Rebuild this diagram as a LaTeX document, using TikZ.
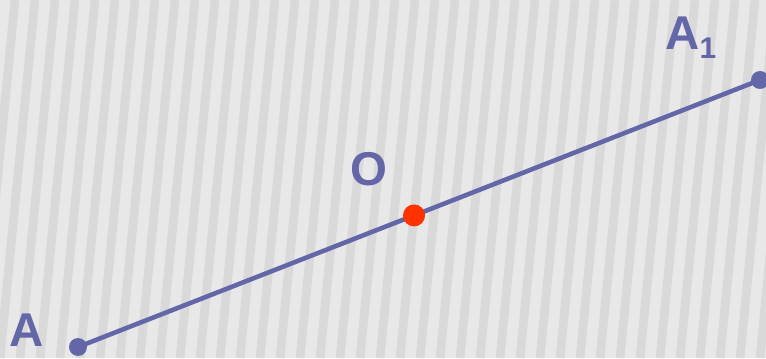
\documentclass[tikz,border=0pt]{standalone}
\usepackage{fontspec}
\setmainfont{Liberation Sans}
\usetikzlibrary{calc}
\definecolor{SegBlue}{HTML}{6367A8}
\definecolor{PtRed}{HTML}{FF3300}
\definecolor{PaperGray}{HTML}{E8E8E8}
\definecolor{StripeGray}{HTML}{CFCFCF}

\begin{document}
\begin{tikzpicture}[x=0.02cm,y=0.02cm,line width=2.6pt,
  ptlabel/.style={text=SegBlue,font=\bfseries\fontsize{27}{30}\selectfont,inner sep=0pt}]
  % paper with slanted stripes
  \fill[PaperGray] (0,0) rectangle (766,358);
  \begin{scope}
    \clip (0,0) rectangle (766,358);
    \foreach \i in {-2,...,40}
      \draw[StripeGray,line width=5pt,opacity=0.6] (\i*20+35,358) -- (\i*20,0);
  \end{scope}
  \useasboundingbox (0,0) rectangle (766,358);

  \coordinate (A) at (78,11);
  \coordinate (A1) at (760,278);
  \coordinate (O) at ($(A)!0.4927!(A1)$);
  \draw[SegBlue] (A) -- (A1);
  \fill[SegBlue] (A) circle (9);
  \fill[SegBlue] (A1) circle (9);
  \fill[PtRed] (O) circle (11);

  \node[ptlabel] (labA) at (27,28) {A};
  \node[ptlabel] (labO) at (369,189) {O};
  \node[ptlabel,anchor=base west] (labA1) at (663,308)
    {A\raisebox{-0.35ex}{\fontsize{17}{18}\selectfont 1}};
\end{tikzpicture}
\end{document}
